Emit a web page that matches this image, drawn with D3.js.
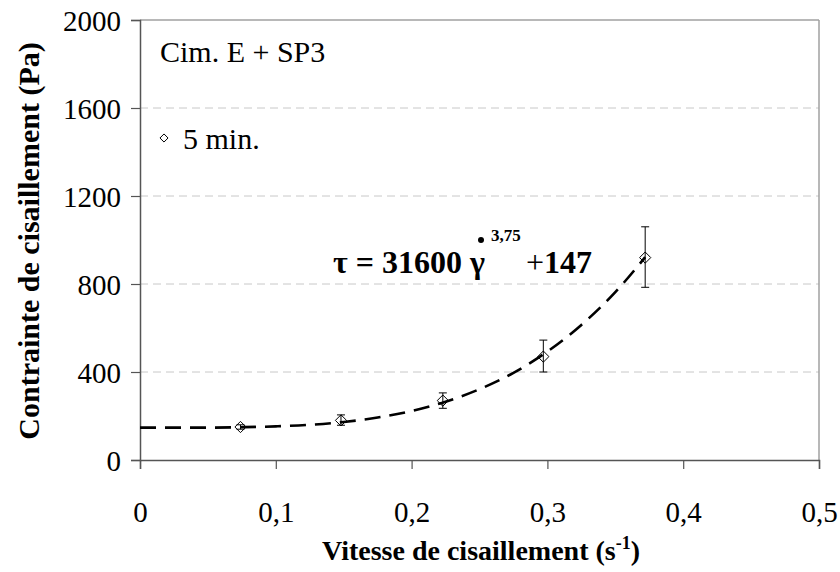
<!DOCTYPE html>
<html><head><meta charset="utf-8">
<script src="https://cdn.jsdelivr.net/npm/d3@7"></script>
<style>body{margin:0;background:#fff}svg{display:block}</style>
</head><body>
<svg id="c" width="840" height="572"></svg>
<script>
const xTicks = [0, 0.1, 0.2, 0.3, 0.4, 0.5];
const xTickLabels = ["0", "0,1", "0,2", "0,3", "0,4", "0,5"];
const yTicks = [0, 400, 800, 1200, 1600, 2000];
const pointX = [0.074, 0.148, 0.223, 0.297, 0.372];
const pointY = [150, 180, 270, 470, 920];
const errLow = [140, 158, 235, 400, 785];
const errHigh = [160, 205, 305, 545, 1060];
const fitX = [0, 0.025, 0.05, 0.075, 0.1, 0.125, 0.15, 0.175, 0.2, 0.225, 0.25, 0.275, 0.3, 0.325, 0.35, 0.372];
const fitY = [147, 147, 147, 149, 153, 160, 173, 193, 223, 265, 322, 396, 493, 614, 763, 922];

const FONT = "'Liberation Serif', 'Times New Roman', Times, 'DejaVu Serif', serif";
const svg = d3.select("#c").style("font-family", FONT);
const L = 140, R = 819, T = 20, B = 460;
const x = d3.scaleLinear().domain([0, 0.5]).range([L, R]);
const y = d3.scaleLinear().domain([0, 2000]).range([B, T]);

// gridlines
svg.append("g").selectAll("line").data(yTicks.filter(d => d > 0 && d < 2000)).join("line")
  .attr("x1", L).attr("x2", R).attr("y1", d => y(d)).attr("y2", d => y(d))
  .attr("stroke", "#c8c8c8").attr("stroke-width", 1).attr("stroke-dasharray", "8,5");

// top & right border
svg.append("line").attr("x1", L).attr("x2", R).attr("y1", T).attr("y2", T).attr("stroke", "#a0a0a0").attr("stroke-width", 1.5);
svg.append("line").attr("x1", R).attr("x2", R).attr("y1", T).attr("y2", B).attr("stroke", "#a0a0a0").attr("stroke-width", 1.5);

// axes
const xAxis = svg.append("g").attr("transform", `translate(0,${B})`)
  .call(d3.axisBottom(x).tickValues(xTicks).tickSize(9).tickFormat((d, i) => xTickLabels[i]));
const yAxis = svg.append("g").attr("transform", `translate(${L},0)`)
  .call(d3.axisLeft(y).tickValues(yTicks).tickSize(9).tickFormat(d => d));
[xAxis, yAxis].forEach(g => {
  g.attr("font-family", null).attr("font-size", null);
  g.select(".domain").attr("stroke", "#555").attr("stroke-width", 1.5);
  g.selectAll(".tick line").attr("stroke", "#555").attr("stroke-width", 1.2);
  g.selectAll("text").style("font-family", FONT).style("font-size", "29px").attr("fill", "#000");
});
xAxis.selectAll("text").attr("dy", null).attr("y", 62);
yAxis.selectAll("text").attr("x", -19).attr("dy", "0.35em");

// fit curve
const line = d3.line().x((d, i) => x(fitX[i])).y(d => y(d)).curve(d3.curveMonotoneX);
svg.append("path").datum(fitY).attr("d", line).attr("fill", "none")
  .attr("stroke", "#000").attr("stroke-width", 2.6).attr("stroke-dasharray", "16,9");

// error bars
const eb = svg.append("g").attr("stroke", "#000").attr("stroke-width", 1);
pointX.forEach((px, i) => {
  const cx = x(px);
  eb.append("line").attr("x1", cx).attr("x2", cx).attr("y1", y(errLow[i])).attr("y2", y(errHigh[i]));
  eb.append("line").attr("x1", cx - 4).attr("x2", cx + 4).attr("y1", y(errLow[i])).attr("y2", y(errLow[i]));
  eb.append("line").attr("x1", cx - 4).attr("x2", cx + 4).attr("y1", y(errHigh[i])).attr("y2", y(errHigh[i]));
});

// markers
const diamond = d3.symbol().type(d3.symbolDiamond2).size(80);
svg.append("g").selectAll("path").data(pointY).join("path")
  .attr("transform", (d, i) => `translate(${x(pointX[i])},${y(d)})`)
  .attr("d", diamond).attr("fill", "none").attr("stroke", "#000").attr("stroke-width", 1);

// annotations
svg.append("text").attr("x", 160).attr("y", 62).style("font-size", "30px").text("Cim. E + SP3");
svg.append("path").attr("transform", "translate(164,138)").attr("d", d3.symbol().type(d3.symbolDiamond2).size(42))
  .attr("fill", "none").attr("stroke", "#000").attr("stroke-width", 1);
svg.append("text").attr("x", 183).attr("y", 149).style("font-size", "30px").text("5 min.");

// equation
svg.append("text").attr("x", 333).attr("y", 273).style("font-size", "32px").attr("font-weight", "bold")
  .text("τ = 31600 γ");
svg.append("circle").attr("cx", 481).attr("cy", 240).attr("r", 3).attr("fill", "#000");
svg.append("text").attr("x", 491).attr("y", 241).style("font-size", "17px").attr("font-weight", "bold").text("3,75");
const eq2 = svg.append("text").attr("x", 526).attr("y", 273).style("font-size", "32px");
eq2.append("tspan").text("+");
eq2.append("tspan").attr("font-weight", "bold").text("147");

// axis titles
const xt = svg.append("text").attr("x", 481).attr("y", 560).attr("text-anchor", "middle")
  .style("font-size", "28px").attr("font-weight", "bold");
xt.append("tspan").text("Vitesse de cisaillement (s");
xt.append("tspan").style("font-size", "18px").attr("dy", -11).text("-1");
xt.append("tspan").attr("dy", 11).text(")");

svg.append("text").attr("transform", "translate(39,241) rotate(-90)").attr("text-anchor", "middle")
  .style("font-size", "30px").attr("font-weight", "bold").text("Contrainte de cisaillement (Pa)");
</script>
</body></html>
